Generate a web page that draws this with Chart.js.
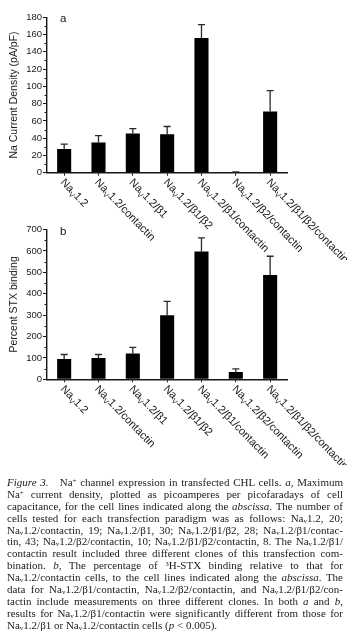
<!DOCTYPE html>
<html>
<head>
<meta charset="utf-8">
<script src="https://cdn.jsdelivr.net/npm/chart.js@4.4.1/dist/chart.umd.min.js"></script>
<style>
  html, body { margin: 0; padding: 0; background: #fff; }
  body { width: 359px; height: 643px; position: relative; overflow: hidden; }
  .cv { position: absolute; left: 0; }
  #capt { position: absolute; left: 7px; top: 477px; width: 336px;
          font-family: "Liberation Serif", "Times New Roman", serif; font-size: 11px; color: #1a1a1a; }
  #capt .ln { height: 11.9px; line-height: 11.9px; white-space: nowrap; text-align: justify; text-align-last: justify; }
  #capt .ln.last { text-align-last: left; }
  #capt sub { font-size: 7px; vertical-align: -1px; line-height: 0; }
  #capt sup { font-size: 7px; vertical-align: 3px; line-height: 0; }
</style>
</head>
<body>
<div class="cv" style="top:0;width:359px;height:260px;"><canvas id="chartA"></canvas></div>
<div class="cv" style="top:200px;width:359px;height:265px;"><canvas id="chartB"></canvas></div>
<div id="capt">
  <div class="ln"><i>Figure 3.</i>&nbsp;&nbsp; Na<sup>+</sup> channel expression in transfected CHL cells. <i>a</i>, Maximum</div>
  <div class="ln">Na<sup>+</sup> current density, plotted as picoamperes per picofaradays of cell</div>
  <div class="ln">capacitance, for the cell lines indicated along the <i>abscissa</i>. The number of</div>
  <div class="ln">cells tested for each transfection paradigm was as follows: Na<sub>v</sub>1.2, 20;</div>
  <div class="ln">Na<sub>v</sub>1.2/contactin, 19; Na<sub>v</sub>1.2/β1, 30; Na<sub>v</sub>1.2/β1/β2, 28; Na<sub>v</sub>1.2/β1/contac-</div>
  <div class="ln">tin, 43; Na<sub>v</sub>1.2/β2/contactin, 10; Na<sub>v</sub>1.2/β1/β2/contactin, 8. The Na<sub>v</sub>1.2/β1/</div>
  <div class="ln">contactin result included three different clones of this transfection com-</div>
  <div class="ln">bination. <i>b</i>, The percentage of <sup>3</sup>H-STX binding relative to that for</div>
  <div class="ln">Na<sub>v</sub>1.2/contactin cells, to the cell lines indicated along the <i>abscissa</i>. The</div>
  <div class="ln">data for Na<sub>v</sub>1.2/β1/contactin, Na<sub>v</sub>1.2/β2/contactin, and Na<sub>v</sub>1.2/β1/β2/con-</div>
  <div class="ln">tactin include measurements on three different clones. In both <i>a</i> and <i>b</i>,</div>
  <div class="ln">results for Na<sub>v</sub>1.2/β1/contactin were significantly different from those for</div>
  <div class="ln last">Na<sub>v</sub>1.2/β1 or Na<sub>v</sub>1.2/contactin cells (<i>p</i> &lt; 0.005).</div>
</div>
<script>
// ---- data ----
const categories = ['Na_V1.2', 'Na_V1.2/contactin', 'Na_V1.2/β1', 'Na_V1.2/β1/β2',
                    'Na_V1.2/β1/contactin', 'Na_V1.2/β2/contactin', 'Na_V1.2/β1/β2/contactin'];
const currentDensity = [27.5, 35, 45.5, 44.5, 156, 0.4, 71];
const currentDensityErr = [5.5, 8, 5.5, 9, 15.5, 0.6, 24];
const stxBinding = [95, 100, 121, 299, 597, 34, 487];
const stxBindingErr = [21, 16, 28, 65, 64, 15, 88];
const currentTicks = [0, 20, 40, 60, 80, 100, 120, 140, 160, 180];
const stxTicks = [0, 100, 200, 300, 400, 500, 600, 700];

const FONT = '"Liberation Sans", Arial, Helvetica, sans-serif';
const INK = '#161616';

const decorPlugin = {
  id: 'decor',
  afterDatasetsDraw(chart, args, opts) {
    const ctx = chart.ctx;
    const xs = chart.scales.x, ys = chart.scales.y;
    const area = chart.chartArea;
    // error bars (upper only)
    const meta = chart.getDatasetMeta(0);
    const vals = chart.data.datasets[0].data;
    ctx.save();
    ctx.strokeStyle = '#2a2a2a';
    ctx.lineWidth = 1.3;
    meta.data.forEach((bar, i) => {
      const yTop = ys.getPixelForValue(vals[i]);
      const yErr = ys.getPixelForValue(vals[i] + opts.err[i]);
      ctx.beginPath();
      ctx.moveTo(bar.x, yTop);
      ctx.lineTo(bar.x, yErr);
      ctx.moveTo(bar.x - 3.5, yErr);
      ctx.lineTo(bar.x + 3.5, yErr);
      ctx.stroke();
    });
    // minor ticks on y axis
    ctx.strokeStyle = INK;
    ctx.lineWidth = 1;
    const t = opts.ticks;
    for (let i = 0; i < t.length - 1; i++) {
      const y = Math.round(ys.getPixelForValue((t[i] + t[i + 1]) / 2)) + 0.5;
      ctx.beginPath();
      ctx.moveTo(area.left - 2.5, y);
      ctx.lineTo(area.left, y);
      ctx.stroke();
    }
    // panel letter
    ctx.fillStyle = INK;
    ctx.font = '11.5px ' + FONT;
    ctx.textAlign = 'left';
    ctx.textBaseline = 'alphabetic';
    ctx.fillText(opts.letter, area.left + 13, area.top + 5);
    // rotated category labels
    const ang = 46 * Math.PI / 180;
    chart.data.labels.forEach((lab, i) => {
      const x = xs.getPixelForValue(i);
      const parts = lab.split('_V');
      ctx.save();
      ctx.translate(x - 2, area.bottom + 8);
      ctx.rotate(ang);
      ctx.textBaseline = 'middle';
      ctx.fillStyle = INK;
      let cx = 0;
      ctx.font = '11px ' + FONT;
      ctx.fillText(parts[0], cx, 0);
      cx += ctx.measureText(parts[0]).width;
      ctx.font = '7.5px ' + FONT;
      ctx.fillText('V', cx, 3.5);
      cx += ctx.measureText('V').width;
      ctx.font = '11px ' + FONT;
      ctx.fillText(parts[1], cx, 0);
      ctx.restore();
    });
    ctx.restore();
  }
};

function makeChart(id, values, err, ticks, title, letter, padTop, xHeight) {
  return new Chart(document.getElementById(id), {
    type: 'bar',
    data: {
      labels: categories,
      datasets: [{
        data: values,
        backgroundColor: '#000',
        borderWidth: 0,
        barPercentage: 0.41,
        categoryPercentage: 1.0
      }]
    },
    options: {
      responsive: true,
      maintainAspectRatio: false,
      animation: false,
      events: [],
      layout: { padding: { left: 0, right: 71.7, top: padTop, bottom: 0 } },
      plugins: {
        legend: { display: false },
        tooltip: { enabled: false },
        decor: { err: err, ticks: ticks, letter: letter }
      },
      scales: {
        x: {
          type: 'category',
          offset: true,
          grid: { display: true, offset: false, drawOnChartArea: false, drawTicks: true,
                  tickLength: 3, color: INK, lineWidth: 1 },
          border: { display: true, color: INK, width: 1.4 },
          ticks: { display: false },
          afterFit(s) { s.height = xHeight; }
        },
        y: {
          min: ticks[0],
          max: ticks[ticks.length - 1],
          afterBuildTicks(s) { s.ticks = ticks.map(v => ({ value: v })); },
          grid: { display: true, drawOnChartArea: false, drawTicks: true, tickLength: 4,
                  color: INK, lineWidth: 1 },
          border: { display: true, color: INK, width: 1.4 },
          ticks: { padding: 1, color: '#1a1a1a', font: { family: FONT, size: 9.5 } },
          title: { display: true, text: title, color: '#1a1a1a',
                    font: { family: FONT, size: 10.5 }, padding: { top: 8, bottom: 0 } },
          afterFit(s) { s.width = 47; }
        }
      }
    },
    plugins: [decorPlugin]
  });
}

makeChart('chartA', currentDensity, currentDensityErr, currentTicks,
          'Na Current Density (pA/pF)', 'a', 17.3, 260 - 172.7);
makeChart('chartB', stxBinding, stxBindingErr, stxTicks,
          'Percent STX binding', 'b', 29.5, 265 - 179.3);
</script>
</body>
</html>
